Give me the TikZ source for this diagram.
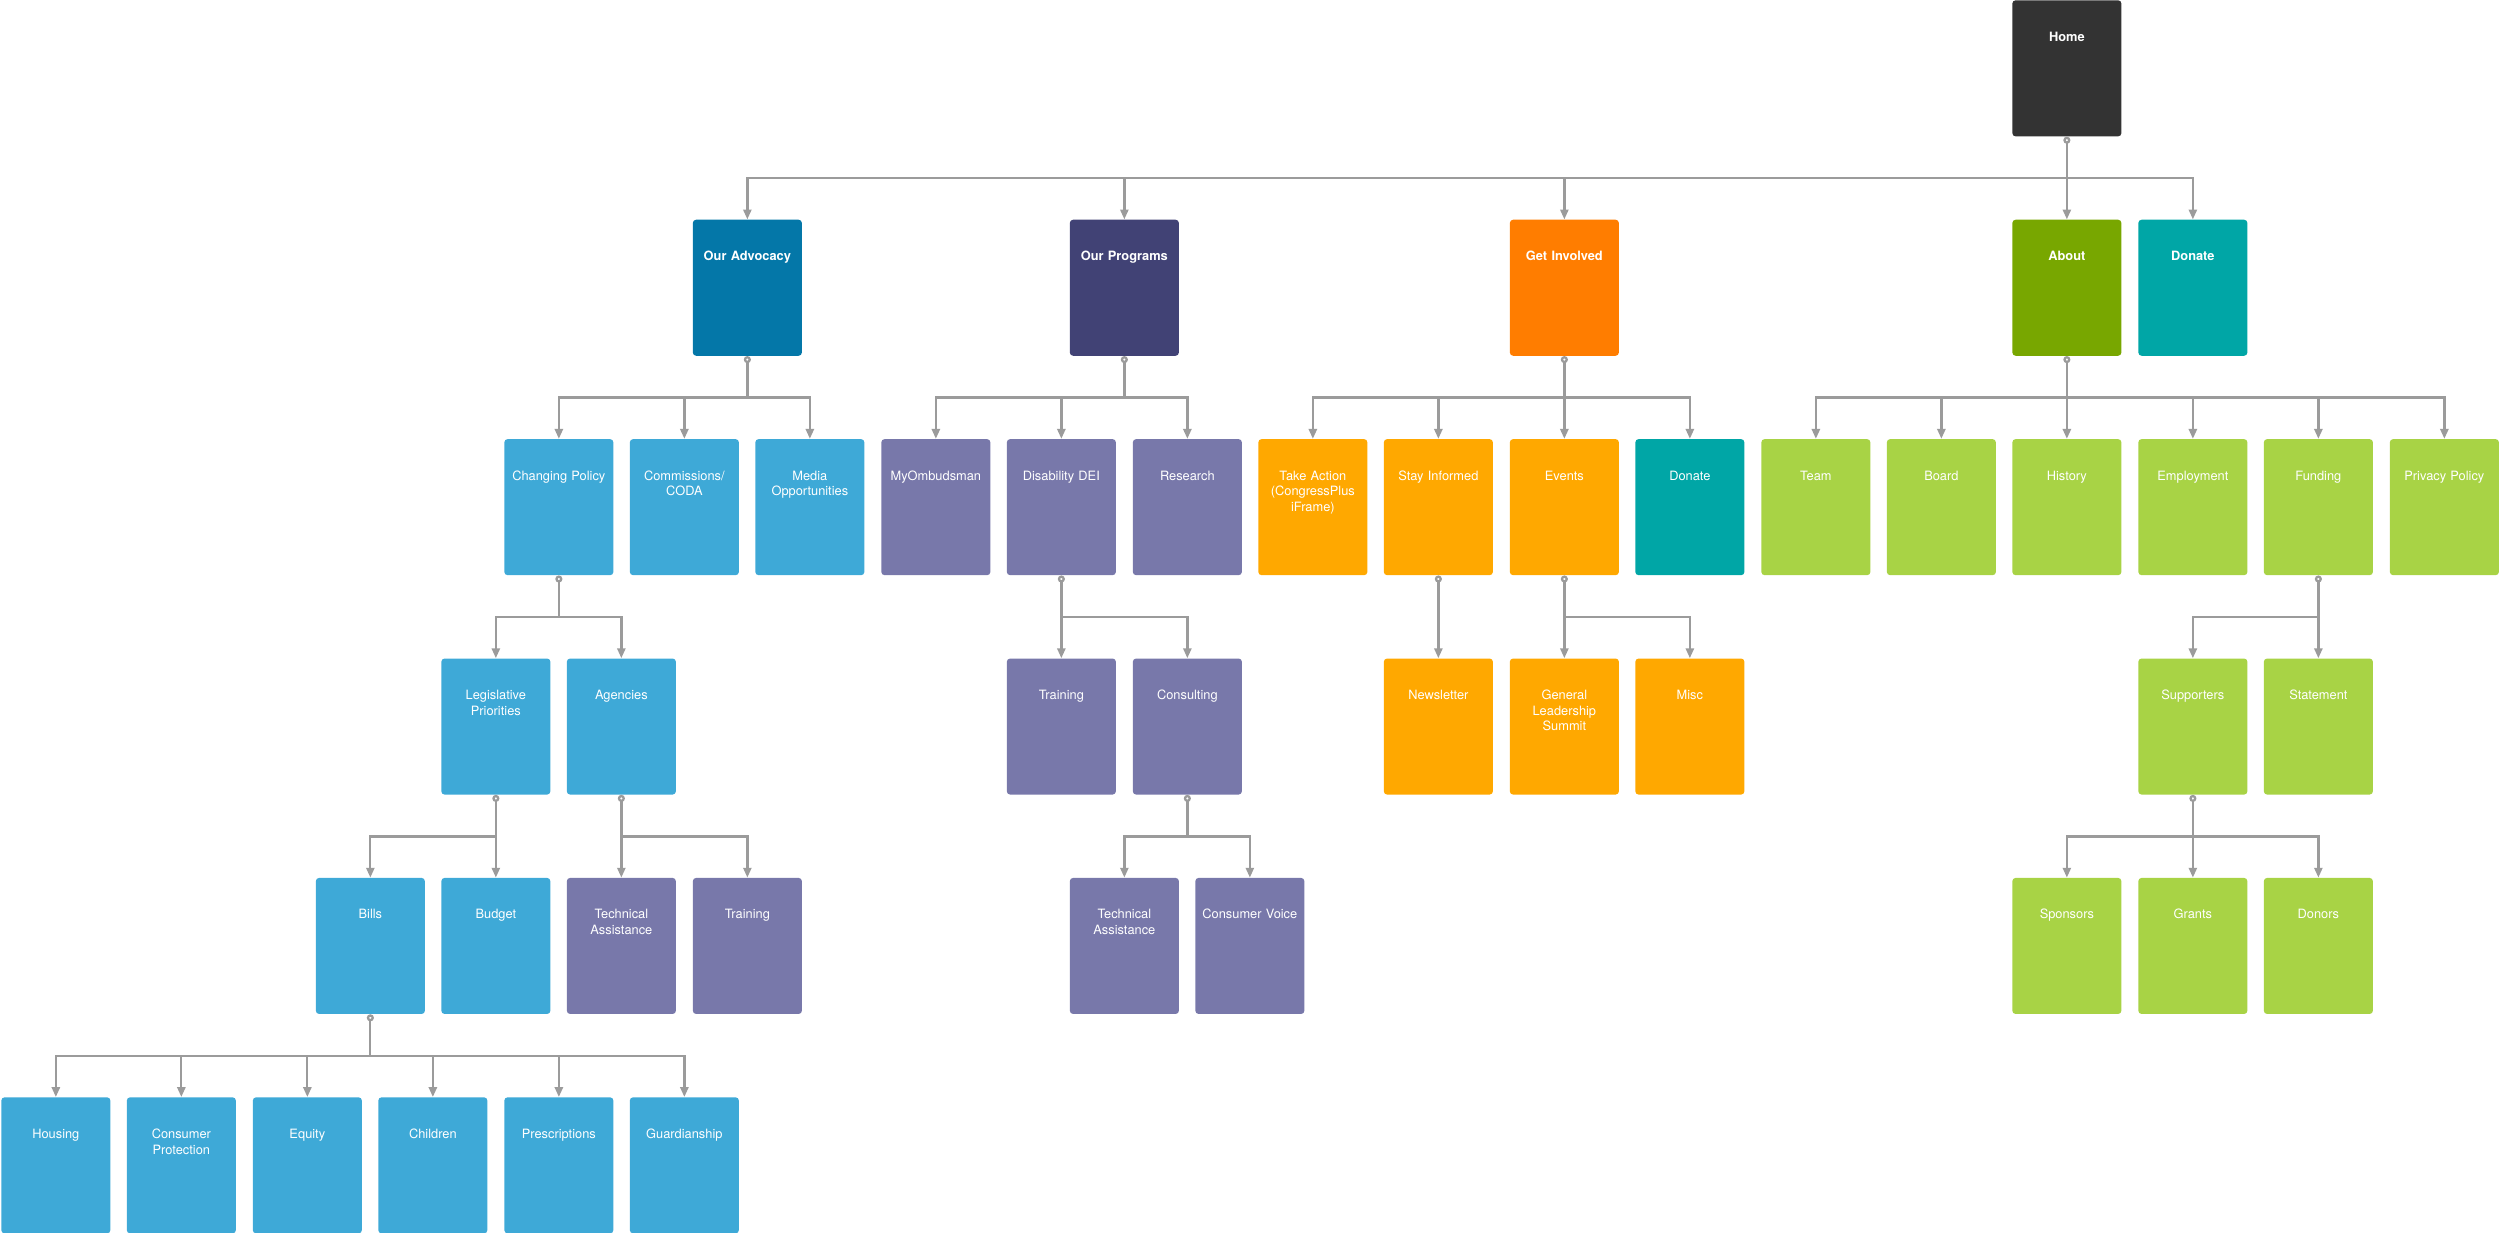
\documentclass[tikz,border=0pt]{standalone}
\usepackage{fontspec}
\setmainfont{TeX Gyre Heros}
\usetikzlibrary{arrows.meta}
\tikzset{>={Triangle[length=5.6pt,width=4.6pt]}}

\definecolor{homegray}{RGB}{51,51,51}
\definecolor{advblue}{RGB}{4,119,168}
\definecolor{progblue}{RGB}{65,66,117}
\definecolor{involvedorange}{RGB}{255,125,0}
\definecolor{aboutgreen}{RGB}{120,167,0}
\definecolor{donateteal}{RGB}{0,166,166}
\definecolor{skyblue}{RGB}{62,169,215}
\definecolor{lavender}{RGB}{120,120,170}
\definecolor{amber}{RGB}{255,168,0}
\definecolor{lime}{RGB}{168,211,69}
\definecolor{linkgray}{RGB}{155,155,155}

\tikzset{
  pagebox/.style={rectangle, rounded corners=1.8pt, anchor=north west,
    minimum width=2.18cm, minimum height=2.72cm, text width=2.1cm,
    inner xsep=0.04cm, inner ysep=0pt, text height=0.82cm, text depth=1.9cm,
    align=center, text=white, font=\fontsize{7.3}{8.9}\selectfont},
  mainbox/.style={pagebox, font=\bfseries\fontsize{7.3}{8.9}\selectfont},
  bluepage/.style={pagebox, fill=skyblue},
  violetpage/.style={pagebox, fill=lavender},
  amberpage/.style={pagebox, fill=amber},
  limepage/.style={pagebox, fill=lime},
  tealpage/.style={pagebox, fill=donateteal},
  stem/.style={draw=linkgray, line width=1.3pt, {Circle[open,length=4pt]}-},
  link/.style={draw=linkgray, line width=1.3pt, ->}
}

\begin{document}
\begin{tikzpicture}
    \useasboundingbox (0,0) rectangle (50,-24.66);

    \node[mainbox, fill=homegray] (home) at (40.24,0) {Home};

    \node[mainbox, fill=advblue] (advocacy) at (13.85,-4.388) {Our Advocacy};
    \node[mainbox, fill=progblue] (programs) at (21.39,-4.388) {Our Programs};
    \node[mainbox, fill=involvedorange] (involved) at (30.19,-4.388) {Get Involved};
    \node[mainbox, fill=aboutgreen] (about) at (40.24,-4.388) {About};
    \node[mainbox, fill=donateteal] (donate) at (42.76,-4.388) {Donate};

    \node[bluepage] (changing) at (10.08,-8.776) {Changing Policy};
    \node[bluepage] (commissions) at (12.59,-8.776) {Commissions/\\CODA};
    \node[bluepage] (media) at (15.10,-8.776) {Media\\Opportunities};
    \node[violetpage] (ombudsman) at (17.62,-8.776) {MyOmbudsman};
    \node[violetpage] (dei) at (20.13,-8.776) {Disability DEI};
    \node[violetpage] (research) at (22.65,-8.776) {Research};
    \node[amberpage] (takeaction) at (25.16,-8.776) {Take Action\\(CongressPlus\\iFrame)};
    \node[amberpage] (informed) at (27.67,-8.776) {Stay Informed};
    \node[amberpage] (events) at (30.19,-8.776) {Events};
    \node[tealpage] (donatenow) at (32.70,-8.776) {Donate};
    \node[limepage] (team) at (35.22,-8.776) {Team};
    \node[limepage] (board) at (37.73,-8.776) {Board};
    \node[limepage] (history) at (40.24,-8.776) {History};
    \node[limepage] (employment) at (42.76,-8.776) {Employment};
    \node[limepage] (funding) at (45.27,-8.776) {Funding};
    \node[limepage] (privacy) at (47.79,-8.776) {Privacy Policy};

    \node[bluepage] (legislative) at (8.82,-13.164) {Legislative\\Priorities};
    \node[bluepage] (agencies) at (11.33,-13.164) {Agencies};
    \node[violetpage] (training) at (20.13,-13.164) {Training};
    \node[violetpage] (consulting) at (22.65,-13.164) {Consulting};
    \node[amberpage] (newsletter) at (27.67,-13.164) {Newsletter};
    \node[amberpage] (summit) at (30.19,-13.164) {General\\Leadership\\Summit};
    \node[amberpage] (misc) at (32.70,-13.164) {Misc};
    \node[limepage] (supporters) at (42.76,-13.164) {Supporters};
    \node[limepage] (statement) at (45.27,-13.164) {Statement};

    \node[bluepage] (bills) at (6.31,-17.552) {Bills};
    \node[bluepage] (budget) at (8.82,-17.552) {Budget};
    \node[violetpage] (agencyhelp) at (11.33,-17.552) {Technical\\Assistance};
    \node[violetpage] (agencytraining) at (13.85,-17.552) {Training};
    \node[violetpage] (consulthelp) at (21.39,-17.552) {Technical\\Assistance};
    \node[violetpage] (voice) at (23.90,-17.552) {Consumer Voice};
    \node[limepage] (sponsors) at (40.24,-17.552) {Sponsors};
    \node[limepage] (grants) at (42.76,-17.552) {Grants};
    \node[limepage] (donors) at (45.27,-17.552) {Donors};

    \node[bluepage] (housing) at (0.02,-21.94) {Housing};
    \node[bluepage] (protection) at (2.53,-21.94) {Consumer\\Protection};
    \node[bluepage] (equity) at (5.05,-21.94) {Equity};
    \node[bluepage] (children) at (7.56,-21.94) {Children};
    \node[bluepage] (prescriptions) at (10.08,-21.94) {Prescriptions};
    \node[bluepage] (guardianship) at (12.59,-21.94) {Guardianship};

    \draw[stem] (home.south) -- ++(0,-0.83) coordinate (homebus);
    \foreach \n in {advocacy,programs,involved,about,donate} \draw[link] (homebus) -| (\n.north);
    \draw[stem] (advocacy.south) -- ++(0,-0.83) coordinate (advbus);
    \foreach \n in {changing,commissions,media} \draw[link] (advbus) -| (\n.north);
    \draw[stem] (programs.south) -- ++(0,-0.83) coordinate (progbus);
    \foreach \n in {ombudsman,dei,research} \draw[link] (progbus) -| (\n.north);
    \draw[stem] (involved.south) -- ++(0,-0.83) coordinate (invbus);
    \foreach \n in {takeaction,informed,events,donatenow} \draw[link] (invbus) -| (\n.north);
    \draw[stem] (about.south) -- ++(0,-0.83) coordinate (aboutbus);
    \foreach \n in {team,board,history,employment,funding,privacy} \draw[link] (aboutbus) -| (\n.north);
    \draw[stem] (changing.south) -- ++(0,-0.83) coordinate (policybus);
    \foreach \n in {legislative,agencies} \draw[link] (policybus) -| (\n.north);
    \draw[stem] (dei.south) -- ++(0,-0.83) coordinate (deibus);
    \foreach \n in {training,consulting} \draw[link] (deibus) -| (\n.north);
    \draw[stem] (informed.south) -- ++(0,-0.83) coordinate (newsbus);
    \draw[link] (newsbus) -| (newsletter.north);
    \draw[stem] (events.south) -- ++(0,-0.83) coordinate (eventbus);
    \foreach \n in {summit,misc} \draw[link] (eventbus) -| (\n.north);
    \draw[stem] (funding.south) -- ++(0,-0.83) coordinate (fundbus);
    \foreach \n in {supporters,statement} \draw[link] (fundbus) -| (\n.north);
    \draw[stem] (legislative.south) -- ++(0,-0.83) coordinate (legbus);
    \foreach \n in {bills,budget} \draw[link] (legbus) -| (\n.north);
    \draw[stem] (agencies.south) -- ++(0,-0.83) coordinate (agencybus);
    \foreach \n in {agencyhelp,agencytraining} \draw[link] (agencybus) -| (\n.north);
    \draw[stem] (consulting.south) -- ++(0,-0.83) coordinate (consultbus);
    \foreach \n in {consulthelp,voice} \draw[link] (consultbus) -| (\n.north);
    \draw[stem] (supporters.south) -- ++(0,-0.83) coordinate (supportbus);
    \foreach \n in {sponsors,grants,donors} \draw[link] (supportbus) -| (\n.north);
    \draw[stem] (bills.south) -- ++(0,-0.83) coordinate (billbus);
    \foreach \n in {housing,protection,equity,children,prescriptions,guardianship} \draw[link] (billbus) -| (\n.north);
\end{tikzpicture}
\end{document}
